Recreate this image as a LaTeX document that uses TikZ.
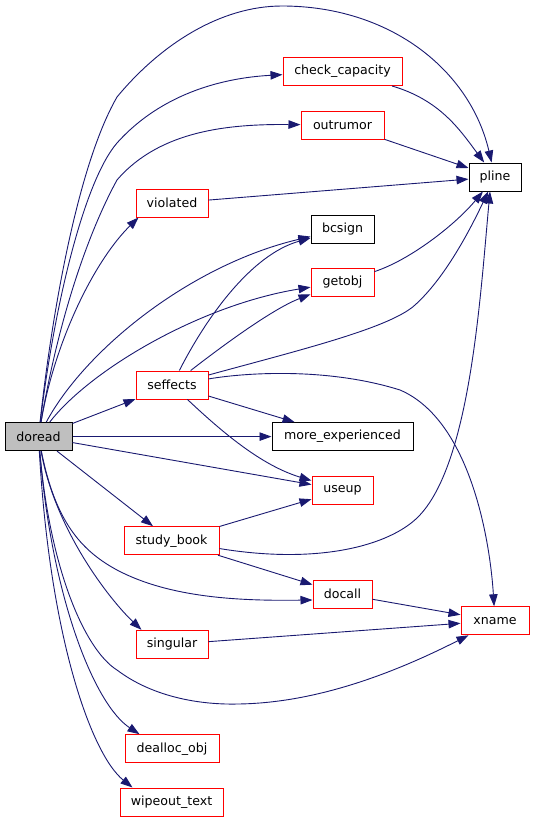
\documentclass[tikz,border=0pt]{standalone}
\usepackage{fontspec}
\setmainfont{DejaVu Sans}
\usetikzlibrary{arrows.meta}
\definecolor{edgeblue}{HTML}{191970}
\definecolor{boxred}{HTML}{FF0000}
\definecolor{boxgray}{HTML}{BFBFBF}
\begin{document}
\begin{tikzpicture}[x=1pt,y=-1pt,
  fn/.style={draw=boxred, line width=1pt, rectangle, inner sep=0pt, minimum height=28pt, fill=white,
    font=\fontsize{12.6}{15}\selectfont},
  fnb/.style={fn, draw=black},
  call/.style={draw=edgeblue, line width=0.9pt, -{Triangle[length=12pt,width=8.5pt]}}]
\useasboundingbox (0,0) rectangle (533,822);

% nodes
\node[fnb, fill=boxgray, minimum width=67pt] (doread) at (38.5,436.6) {doread};
\node[fn, minimum width=119pt] (check) at (342.5,71.5) {check\_capacity};
\node[fn, minimum width=83pt] (outrumor) at (342.5,125) {outrumor};
\node[fnb, minimum width=52pt] (pline) at (495,177) {pline};
\node[fn, minimum width=72pt] (violated) at (172,203) {violated};
\node[fnb, minimum width=63pt] (bcsign) at (342.5,229) {bcsign};
\node[fn, minimum width=63pt] (getobj) at (342.5,282) {getobj};
\node[fn, minimum width=72pt] (seffects) at (172,385) {seffects};
\node[fnb, minimum width=141pt] (moreexp) at (342.5,436.6) {more\_experienced};
\node[fn, minimum width=61pt] (useup) at (342.5,490) {useup};
\node[fn, minimum width=95pt] (study) at (171.5,540.7) {study\_book};
\node[fn, minimum width=59pt] (docall) at (342.5,594) {docall};
\node[fn, minimum width=68pt] (xname) at (495,620.8) {xname};
\node[fn, minimum width=72pt] (singular) at (172,644.3) {singular};
\node[fn, minimum width=94pt] (dealloc) at (172,748.7) {dealloc\_obj};
\node[fn, minimum width=103pt] (wipeout) at (171.5,802) {wipeout\_text};

% edges from doread
\draw[call] (doread) .. controls (50,330) and (75,170) .. (117,97)
  .. controls (160,45) and (220,6) .. (282,6)
  .. controls (390,6) and (470,70) .. (pline);
\draw[call] (doread) .. controls (55,300) and (85,180) .. (117,143)
  .. controls (160,95) and (220,78) .. (check);
\draw[call] (doread) .. controls (62,300) and (95,220) .. (117,180)
  .. controls (160,130) and (230,124) .. (outrumor);
\draw[call] (doread) .. controls (55,340) and (95,260) .. ([xshift=3pt]violated.south west);
\draw[call] (doread) .. controls (85,350) and (190,265) .. (bcsign);
\draw[call] (doread) .. controls (90,370) and (200,305) .. (getobj);
\draw[call] (doread) -- (seffects);
\draw[call] (doread) -- (moreexp);
\draw[call] (doread) -- (useup);
\draw[call] (doread) -- (study);
\draw[call] (doread) .. controls (55,520) and (80,550) .. (117,570)
  .. controls (170,598) and (240,601) .. ([yshift=-6pt]docall.west);
\draw[call] (doread) .. controls (55,530) and (110,600) .. ([xshift=6pt]singular.north west);
\draw[call] (doread) .. controls (50,570) and (85,650) .. (117,670)
  .. controls (150,695) and (195,705) .. (238,704)
  .. controls (320,703) and (400,670) .. ([xshift=8pt]xname.south west);
\draw[call] (doread) .. controls (52,600) and (95,705) .. ([xshift=15pt]dealloc.north west);
\draw[call] (doread) .. controls (50,640) and (92,755) .. ([xshift=13pt]wipeout.north west);

% edges to pline
\draw[call] (check) .. controls (440,100) and (460,130) .. (pline);
\draw[call] (outrumor) -- (pline);
\draw[call] (violated) -- (pline);
\draw[call] (getobj) .. controls (410,260) and (455,225) .. (pline);

% edges from seffects
\draw[call] (seffects) .. controls (205,320) and (250,255) .. (bcsign);
\draw[call] (seffects) .. controls (230,340) and (275,308) .. (getobj);
\draw[call] (seffects) .. controls (300,350) and (390,328) .. (415,305)
  .. controls (445,278) and (470,230) .. (pline);
\draw[call] (seffects) .. controls (250,372) and (330,368) .. (400,390)
  .. controls (470,420) and (490,540) .. (xname);
\draw[call] (seffects) -- (moreexp);
\draw[call] (seffects) .. controls (220,430) and (260,465) .. (useup);

% edges from study_book
\draw[call] (study) -- (useup);
\draw[call] (study) .. controls (320,565) and (390,545) .. (418,517)
  .. controls (470,465) and (480,300) .. ([xshift=-5pt]pline.south);
\draw[call] (study) -- (docall);

% edges to xname
\draw[call] (docall) -- (xname);
\draw[call] (singular) -- (xname);
\end{tikzpicture}
\end{document}
